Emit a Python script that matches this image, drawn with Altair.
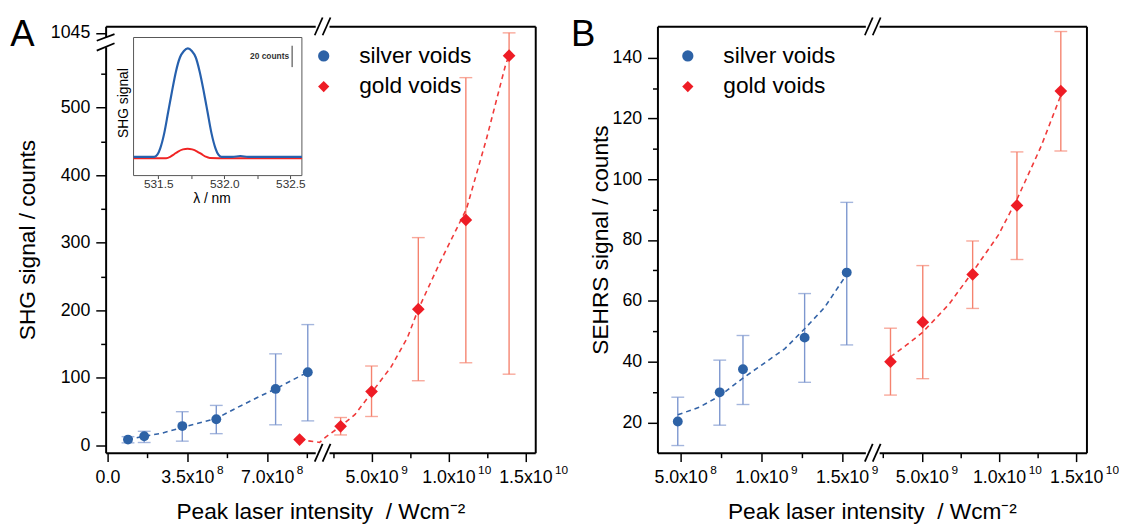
import json
import altair as alt
import pandas as pd

FONT = "Liberation Sans"
SERIES = ["silver voids", "gold voids"]
POINT_COLORS = ["#2d62a6", "#ee1c25"]
BAR_COLORS = ["#7d97cf", "#f5836f"]
FIT_COLORS = ["#3363a7", "#f03a3a"]
INSET_COLORS = ["#2660ad", "#f02424"]

# ---------------- Panel A : SHG signal ----------------
A_SILVER_X = [0.90e8, 1.61e8, 3.28e8, 4.77e8, 7.37e8, 8.78e8]
A_SILVER_Y = [8.7, 13.6, 28.7, 38.9, 83.7, 108.4]
A_SILVER_LO = [3.9, 4.4, 6.4, 17.5, 30.6, 36.4]
A_SILVER_HI = [13.1, 21.0, 50.0, 59.3, 135.6, 178.9]

A_GOLD_X = [8.42e8, 2.99e9, 5.0e9, 8.04e9, 1.113e10, 1.394e10]
A_GOLD_Y = [8.7, 28.3, 79.7, 201.7, 333.8, 576.8]
A_GOLD_LO = [None, 15.6, 42.9, 95.8, 122.4, 105.5]
A_GOLD_HI = [None, 41.4, 117.6, 307.6, 544.3, 1045.0]

A_SILVER_FIT_X = [0.90e8, 1.61e8, 2.37e8, 3.28e8, 4.39e8, 4.77e8, 5.68e8, 6.69e8, 7.37e8, 8.27e8, 8.78e8]
A_SILVER_FIT_Y = [8.7, 13.6, 18.0, 26.8, 36.5, 40.0, 56.0, 73.0, 83.7, 99.7, 108.4]
A_GOLD_FIT_X = [8.42e8, 9.3e8, 2.0e9, 2.98e9, 3.93e9, 5.0e9, 6.28e9, 7.34e9, 8.04e9, 9.47e9,
                1.117e10, 1.245e10, 1.372e10, 1.394e10]
A_GOLD_FIT_Y = [8.7, 4.5, 12.0, 28.3, 46.0, 78.0, 116.6, 160.0, 201.7, 272.0, 350.0, 452.0, 564.0, 577.0]

A_X_MAJOR = [0, 350000000, 700000000, 5000000000, 10000000000, 15000000000]
A_X_LABELS = ["0.0", "3.5x10", "7.0x10", "5.0x10", "1.0x10", "1.5x10"]
A_X_EXPONENTS = ["", "8", "8", "9", "10", "10"]
A_X_MINOR = [175000000, 525000000, 875000000, 2500000000, 7500000000, 12500000000]
A_Y_MAJOR = [0, 100, 200, 300, 400, 500, 1045]
A_Y_LABELS = ["0", "100", "200", "300", "400", "500", "1045"]
A_Y_MINOR = [50, 150, 250, 350, 450, 550]

# inset spectrum
INSET_WL_BLUE = [531.313, 531.400, 531.470, 531.493, 531.515, 531.545, 531.575, 531.590, 531.605,
                 531.634, 531.664, 531.694, 531.724, 531.754, 531.784, 531.813, 531.843, 531.858,
                 531.873, 531.903, 531.933, 531.955, 531.978, 532.060, 532.122, 532.180, 532.300,
                 532.587]
INSET_BLUE = [0, 0, 0, 2.0, 8.0, 22.0, 42.0, 52.0, 62.0, 80.0, 93.0, 99.0, 101.5, 99.0, 93.0,
              80.0, 62.0, 52.0, 42.0, 22.0, 8.0, 2.0, 0, 0, 0.8, 0, 0, 0]
INSET_WL_RED = [531.313, 531.560, 531.590, 531.620, 531.650, 531.687, 531.722, 531.757, 531.795,
                531.828, 531.858, 531.890, 532.022, 532.587]
INSET_RED = [-1.2, -1.2, 0, 2.5, 5.0, 7.0, 7.7, 7.0, 5.0, 2.5, 0.3, -1.0, -1.2, -1.2]
INSET_X_TICKS = [531.5, 531.75, 532.0, 532.25, 532.5]
INSET_BAR = [84, 104]

# ---------------- Panel B : SEHRS signal ----------------
B_SILVER_X = [4.82e8, 7.42e8, 8.86e8, 1.268e9, 1.529e9]
B_SILVER_Y = [20.3, 29.9, 37.5, 47.9, 69.3]
B_SILVER_LO = [12.4, 19.1, 25.9, 33.2, 45.5]
B_SILVER_HI = [28.3, 40.5, 48.6, 62.4, 92.4]

B_GOLD_X = [2.97e9, 5.06e9, 8.29e9, 1.116e10, 1.400e10]
B_GOLD_Y = [40.0, 53.0, 68.7, 91.4, 129.0]
B_GOLD_LO = [29.0, 34.4, 57.5, 73.6, 109.3]
B_GOLD_HI = [51.0, 71.6, 79.7, 109.0, 148.6]

B_SILVER_FIT_X = [4.82e8, 6.15e8, 7.42e8, 8.86e8, 1.024e9, 1.146e9, 1.268e9, 1.391e9, 1.529e9]
B_SILVER_FIT_Y = [22.5, 25.0, 28.7, 34.6, 39.7, 44.3, 50.8, 57.8, 68.7]
B_GOLD_FIT_X = [2.97e9, 3.99e9, 5.06e9, 6.76e9, 8.29e9, 9.95e9, 1.117e10, 1.272e10, 1.40e10]
B_GOLD_FIT_Y = [41.6, 45.4, 49.7, 58.9, 69.5, 81.6, 93.5, 110.8, 127.6]

B_X_MAJOR = [500000000, 1000000000, 1500000000, 5000000000, 10000000000, 15000000000]
B_X_LABELS = ["5.0x10", "1.0x10", "1.5x10", "5.0x10", "1.0x10", "1.5x10"]
B_X_EXPONENTS = ["8", "9", "9", "9", "10", "10"]
B_X_MINOR = [750000000, 1250000000, 2500000000, 7500000000, 12500000000]
B_Y_MAJOR = [20, 40, 60, 80, 100, 120, 140]
B_Y_LABELS = ["20", "40", "60", "80", "100", "120", "140"]
B_Y_MINOR = [30, 50, 70, 90, 110, 130]

X_TITLE = "Peak laser intensity\u00a0 / Wcm\u207b\u00b2"

# ---------------- layout: one canvas, each panel placed by its own scale ranges ----------------
A_W, GAP, B_W, H = 435.6, 123.9, 435.0, 432.3
B0 = A_W + GAP
W = B0 + B_W
A_XDOM = [-8e6, 9.43e8, 1.82e9, 1.564e10]
A_XRANGE = [0, 220, 220, A_W]
A_YDOM = [-10.7, 592, 1035, 1055.3]
A_YRANGE = [H, 19.3, 13, 0]
B_XDOM = [3.56e8, 1.69e9, 1.82e9, 1.566e10]
B_XRANGE = [B0, B0 + 218.3, B0 + 218.3, W]
B_YDOM = [10.04, 150.3]
B_YRANGE = [H, 0]
INSET_XDOM = [531.313, 532.587]
INSET_XRANGE = [28.3, 199]
INSET_YDOM = [-17.5, 111.7]
INSET_YRANGE = [151.3, 11.3]

LABEL_FS = 18
EXP_FS = 12
EXP_OFFSET = 29.5   # horizontal offset of the superscript from its tick
ONE = pd.DataFrame({"a": [0]})


def label_expr(values, labels):
    out = ""
    for v, t in zip(values, labels):
        out += f"datum.value == {v} ? '{t}' : "
    return out + "''"


def tick_size(major, big, small):
    return {"condition": {"test": f"indexof({json.dumps(major)}, datum.value) >= 0", "value": big},
            "value": small}


def bottom_axis(major, labels, minor, title_pad):
    return alt.Axis(orient="bottom", values=sorted(major + minor), labelExpr=label_expr(major, labels),
                    tickSize=tick_size(major, 9, 5), title=X_TITLE, labelPadding=7,
                    titlePadding=title_pad, labelFontSize=LABEL_FS, titleFontSize=23, domainWidth=2,
                    tickWidth=1.5, labelOverlap=False, labelFlush=False, grid=False)


def exponent_axis(major, exps):
    # superscript exponents, set just right of the "x10" mantissa labels
    return alt.Axis(orient="bottom", values=major, labelExpr=label_expr(major, exps),
                    labelOffset=EXP_OFFSET, labelAlign="left", ticks=False, tickSize=0,
                    domain=False, labelPadding=12, labelFontSize=EXP_FS, title=None,
                    labelOverlap=False, labelFlush=False, grid=False)


def left_axis(major, labels, minor, title, title_pad, offset):
    return alt.Axis(orient="left", offset=offset, values=sorted(major + minor),
                    labelExpr=label_expr(major, labels), tickSize=tick_size(major, 10, 5), title=title,
                    labelPadding=6, titlePadding=title_pad, labelFontSize=LABEL_FS, titleFontSize=23,
                    domainWidth=2, tickWidth=1.5, labelOverlap=False, grid=False)


def top_axis():
    return alt.Axis(orient="top", labels=False, ticks=False, title=None, domainWidth=2, grid=False)


def right_axis(offset):
    return alt.Axis(orient="right", offset=offset, labels=False, ticks=False, title=None,
                    domainWidth=2, grid=False)


def series_df(name, xs, ys, los, his):
    return pd.DataFrame({"series": name, "x": xs, "y": ys, "lo": los, "hi": his})


def fit_df(xs, ys):
    return pd.DataFrame({"x": xs, "y": ys})


def x_break(xscale, xb, ypix):
    def enc():
        return dict(x=alt.X(datum=xb, scale=xscale, axis=None), x2=alt.X2(datum=xb))
    return [
        alt.Chart(ONE).mark_rule(color="white", strokeWidth=6, xOffset=-7, x2Offset=7)
        .encode(y=alt.value(ypix), **enc()),
        alt.Chart(ONE).mark_rule(color="black", strokeWidth=1.8, xOffset=-8, x2Offset=0,
                                 yOffset=9, y2Offset=-9)
        .encode(y=alt.value(ypix), y2=alt.value(ypix), **enc()),
        alt.Chart(ONE).mark_rule(color="black", strokeWidth=1.8, xOffset=0, x2Offset=8,
                                 yOffset=9, y2Offset=-9)
        .encode(y=alt.value(ypix), y2=alt.value(ypix), **enc()),
    ]


def panel_layers(silver, gold, fits, xd, xr, yd, yr, xaxis, expaxis, yaxis, raxis, legend, letter,
                 letter_x, xb, yb=None, y_axis_x=0):
    layers = []

    def xs():
        return alt.Scale(domain=xd, range=xr, zero=False, nice=False)

    def ys():
        return alt.Scale(domain=yd, range=yr, zero=False, nice=False)

    for i, df in enumerate([silver, gold]):
        eb = df.dropna()
        layers.append(
            alt.Chart(eb).mark_rule(color=BAR_COLORS[i], strokeWidth=1.4).encode(
                x=alt.X("x:Q", scale=xs(), axis=xaxis if i == 0 else None),
                y=alt.Y("lo:Q", scale=ys(), axis=yaxis if i == 0 else None),
                y2="hi:Q"))
        layers.append(
            alt.Chart(eb).transform_fold(["lo", "hi"], as_=["k", "v"])
            .mark_tick(orient="horizontal", size=13, thickness=1.4, color=BAR_COLORS[i]).encode(
                x=alt.X("x:Q", scale=xs(), axis=expaxis if i == 0 else None),
                y=alt.Y("v:Q", scale=ys(), axis=None)))
    for i, f in enumerate(fits):
        layers.append(
            alt.Chart(f).mark_line(color=FIT_COLORS[i], strokeWidth=1.6, strokeDash=[5, 4]).encode(
                x=alt.X("x:Q", scale=xs(), axis=top_axis() if i == 0 else None),
                y=alt.Y("y:Q", scale=ys(), axis=raxis if i == 0 else None)))
    for j, (df, size) in enumerate([(silver, 100), (gold, 165)]):
        leg = legend if j == 0 else None
        layers.append(
            alt.Chart(df).mark_point(filled=True, opacity=1, strokeWidth=0, size=size).encode(
                x=alt.X("x:Q", scale=xs(), axis=None),
                y=alt.Y("y:Q", scale=ys(), axis=None),
                color=alt.Color("series:N", scale=alt.Scale(domain=SERIES, range=POINT_COLORS), legend=leg),
                shape=alt.Shape("series:N", scale=alt.Scale(domain=SERIES, range=["circle", "diamond"]),
                                legend=leg)))
    layers += x_break(xs(), xb, H)
    layers += x_break(xs(), xb, 0)
    if yb is not None:
        def enc():
            return dict(y=alt.Y(datum=yb, scale=ys(), axis=None), y2=alt.Y2(datum=yb))
        layers.append(alt.Chart(ONE).mark_rule(color="white", strokeWidth=6, yOffset=-5, y2Offset=5)
                      .encode(x=alt.value(y_axis_x), **enc()))
        layers.append(alt.Chart(ONE).mark_rule(color="black", strokeWidth=1.8, yOffset=-1.6, y2Offset=-8.3)
                      .encode(x=alt.value(y_axis_x - 9), x2=alt.value(y_axis_x + 9), **enc()))
        layers.append(alt.Chart(ONE).mark_rule(color="black", strokeWidth=1.8, yOffset=8.4, y2Offset=1)
                      .encode(x=alt.value(y_axis_x - 9), x2=alt.value(y_axis_x + 9), **enc()))
    layers.append(alt.Chart(pd.DataFrame({"t": [letter]})).mark_text(
        fontSize=37, align="left", baseline="alphabetic", color="black", font=FONT).encode(
        text="t:N", x=alt.value(letter_x), y=alt.value(19.5)))
    return layers


def legend_at(x, y):
    return alt.Legend(title=None, orient="none", legendX=x, legendY=y, labelFontSize=23,
                      labelFont=FONT, labelColor="black", symbolSize=130, labelOffset=24.5,
                      rowPadding=7, padding=0, symbolStrokeWidth=0, labelLimit=300)


# ---- Panel A ----
layers = panel_layers(
    series_df(SERIES[0], A_SILVER_X, A_SILVER_Y, A_SILVER_LO, A_SILVER_HI),
    series_df(SERIES[1], A_GOLD_X, A_GOLD_Y, A_GOLD_LO, A_GOLD_HI),
    [fit_df(A_SILVER_FIT_X, A_SILVER_FIT_Y), fit_df(A_GOLD_FIT_X, A_GOLD_FIT_Y)],
    A_XDOM, A_XRANGE, A_YDOM, A_YRANGE,
    bottom_axis(A_X_MAJOR, A_X_LABELS, A_X_MINOR, 15),
    exponent_axis(A_X_MAJOR, A_X_EXPONENTS),
    left_axis(A_Y_MAJOR, A_Y_LABELS, A_Y_MINOR, "SHG signal / counts", 11, 0),
    right_axis(-(W - A_W)),
    legend_at(209.6, 18.5), "A", -96.7, 1.38e9, yb=813, y_axis_x=0)

# ---- inset of panel A ----
def i_x():
    return alt.Scale(domain=INSET_XDOM, range=INSET_XRANGE, zero=False, nice=False)


def i_y():
    return alt.Scale(domain=INSET_YDOM, range=INSET_YRANGE, zero=False, nice=False)


inset_x_axis = alt.Axis(orient="bottom", offset=-(H - INSET_YRANGE[0]), values=INSET_X_TICKS,
                        labelExpr="indexof([531.5, 532, 532.5], datum.value) >= 0 ? format(datum.value, '.1f') : ''",
                        tickSize=3, tickColor="#444", tickWidth=1, domain=False, labelFontSize=12,
                        labelColor="#333", labelPadding=0, title="λ / nm", titleFontSize=14,
                        titlePadding=2, titleX=107.3, labelFlush=False, labelOverlap=False, grid=False)
inset_y_axis = alt.Axis(orient="left", offset=-INSET_XRANGE[0], labels=False, ticks=False, domain=False,
                        title="SHG signal", titleFontSize=14, titlePadding=3, titleY=77.3, grid=False)
layers += [
    alt.Chart(ONE).mark_rect(fillOpacity=0, stroke="#555", strokeWidth=1).encode(
        x=alt.X(datum=INSET_XDOM[0], scale=i_x(), axis=inset_x_axis), x2=alt.X2(datum=INSET_XDOM[1]),
        y=alt.Y(datum=INSET_YDOM[0], scale=i_y(), axis=inset_y_axis), y2=alt.Y2(datum=INSET_YDOM[1])),
    alt.Chart(pd.DataFrame({"wl": INSET_WL_RED, "c": INSET_RED})).mark_line(
        color=INSET_COLORS[1], strokeWidth=2, interpolate="monotone").encode(
        x=alt.X("wl:Q", scale=i_x(), axis=None), y=alt.Y("c:Q", scale=i_y(), axis=None)),
    alt.Chart(pd.DataFrame({"wl": INSET_WL_BLUE, "c": INSET_BLUE})).mark_line(
        color=INSET_COLORS[0], strokeWidth=2.2, interpolate="monotone").encode(
        x=alt.X("wl:Q", scale=i_x(), axis=None), y=alt.Y("c:Q", scale=i_y(), axis=None)),
    alt.Chart(ONE).mark_rule(color="#333", strokeWidth=1).encode(
        x=alt.X(datum=532.513, scale=i_x(), axis=None),
        y=alt.Y(datum=INSET_BAR[0], scale=i_y(), axis=None), y2=alt.Y2(datum=INSET_BAR[1])),
    alt.Chart(pd.DataFrame({"t": ["20 counts"]})).mark_text(
        align="right", baseline="middle", dx=-3, fontSize=8.5, fontWeight="bold", color="#333",
        font=FONT).encode(text="t:N", x=alt.X(datum=532.513, scale=i_x(), axis=None),
                          y=alt.Y(datum=94, scale=i_y(), axis=None)),
]

# ---- Panel B ----
layers += panel_layers(
    series_df(SERIES[0], B_SILVER_X, B_SILVER_Y, B_SILVER_LO, B_SILVER_HI),
    series_df(SERIES[1], B_GOLD_X, B_GOLD_Y, B_GOLD_LO, B_GOLD_HI),
    [fit_df(B_SILVER_FIT_X, B_SILVER_FIT_Y), fit_df(B_GOLD_FIT_X, B_GOLD_FIT_Y)],
    B_XDOM, B_XRANGE, B_YDOM, B_YRANGE,
    bottom_axis(B_X_MAJOR, B_X_LABELS, B_X_MINOR, 15),
    exponent_axis(B_X_MAJOR, B_X_EXPONENTS),
    left_axis(B_Y_MAJOR, B_Y_LABELS, B_Y_MINOR, "SEHRS signal / counts", 0, -B0),
    right_axis(0),
    legend_at(B0 + 19.3, 18.5), "B", B0 - 87.7, 1.75e9)

chart = alt.layer(*layers).resolve_scale(
    x="independent", y="independent", color="independent", shape="independent"
).properties(
    width=W, height=H, padding={"left": 2, "top": 4, "right": 0, "bottom": 0}
).configure_view(strokeWidth=0).configure_axis(
    labelFont=FONT, titleFont=FONT, labelColor="black", titleColor="black", domainColor="black",
    tickColor="black", titleFontWeight="normal"
).configure_text(font=FONT)

chart.save("out.html", embed_options={"renderer": "svg", "actions": False})
